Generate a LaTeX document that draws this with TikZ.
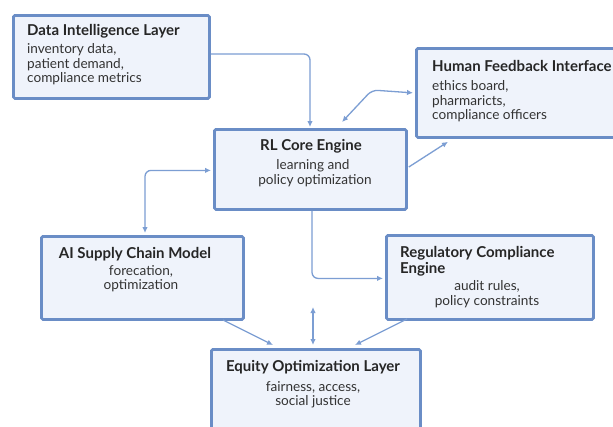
\documentclass[tikz,border=0pt]{standalone}
\usepackage{fontspec}
\setmainfont{Lato}
\usetikzlibrary{arrows.meta,calc}
\definecolor{bordc}{HTML}{6A8DC6}
\definecolor{fillc}{HTML}{EFF3FB}
\definecolor{arrc}{HTML}{7C9ED3}
\tikzset{
  box/.style={draw=bordc, fill=fillc, line width=2.8pt, rounded corners=1.5pt, anchor=north west, inner sep=0pt},
  ttl/.style={font=\fontsize{15}{16.5}\selectfont\bfseries, text=black!85, inner sep=0pt},
  bdy/.style={font=\fontsize{13.6}{14.8}\selectfont, text=black!80, inner sep=0pt, align=left},
  bdyc/.style={bdy, align=center},
  conn/.style={draw=arrc, line width=1.3pt, rounded corners=6pt, -{Latex[length=6pt,width=5.5pt]}},
  conn2/.style={conn, {Latex[length=6pt,width=5.5pt]}-{Latex[length=6pt,width=5.5pt]}},
}
\begin{document}
\begin{tikzpicture}[x=1pt,y=-1pt]
\useasboundingbox[fill=white] (0,0) rectangle (613,426);
\begin{scope}
\clip (0,0) rectangle (613,426);
% boxes
\node[box, minimum width=196pt, minimum height=83pt] (data) at (12,14) {};
\node[box, minimum width=205pt, minimum height=89pt] (hfi) at (415,47) {};
\node[box, minimum width=192pt, minimum height=80pt] (rl) at (213,128) {};
\node[box, minimum width=202pt, minimum height=83pt] (ai) at (40,235) {};
\node[box, minimum width=207pt, minimum height=84pt] (reg) at (385,234) {};
\node[box, minimum width=209pt, minimum height=90pt] (eq) at (210,348) {};
\end{scope}
% texts
\node[ttl, anchor=west] (dataT) at (27,31) {Data Intelligence Layer};
\node[bdy, anchor=north west] (dataB) at (27,43) {inventory data,\\patient demand,\\compliance metrics};
\node[ttl, anchor=west] (hfiT) at (432,66) {Human Feedback Interface};
\node[bdy, anchor=north west] (hfiB) at (432,80) {ethics board,\\pharmaricts,\\compliance officers};
\node[ttl] (rlT) at (311,146) {RL Core Engine};
\node[bdyc, anchor=north] (rlB) at (313,159) {learning and\\\hspace*{4pt}policy optimization};
\node[ttl] (aiT) at (135,254) {AI Supply Chain Model};
\node[bdyc, anchor=north] (aiB) at (141,265) {forecation,\\optimization};
\node[ttl, anchor=north west, align=left] (regT) at (400,246) {Regulatory Compliance\\Engine};
\node[bdyc, anchor=north] (regB) at (487,280) {audit rules,\\policy constraints};
\node[ttl] (eqT) at (313,367) {Equity Optimization Layer};
\node[bdyc, anchor=north] (eqB) at (313,381) {fairness, access,\\social justice};
% connectors
\coordinate (c1) at (310,54);
\draw[conn] (data.east |- c1) -| ($(rl.north west)+(97,-1)$);
\coordinate (h1) at (372,90);
\draw[conn2] ($(rl.north west)+(129,-6)$) -- (h1) -- ($(hfi.west)+(-2,0)$);
\draw[conn] ($(rl.north east)+(1,39)$) -- ($(hfi.south west)+(33,3)$);
\coordinate (a1) at (145,169);
\draw[conn2] ($(rl.west)+(-2,1)$) -| ($(ai.north west)+(105,-2)$);
\draw[conn] (rl.south -| 312,0) |- ($(reg.west)+(-2,1)$);
\coordinate (u1) at (313,307);
\draw[conn2] (u1) -- ($(eq.north west)+(103,-3)$);
\coordinate (a2) at (223,320);
\draw[conn] (a2) -- ($(eq.north west)+(63,-3)$);
\coordinate (r2) at (407,319);
\draw[conn] (r2) -- ($(eq.north west)+(145,-3)$);
\end{tikzpicture}
\end{document}
